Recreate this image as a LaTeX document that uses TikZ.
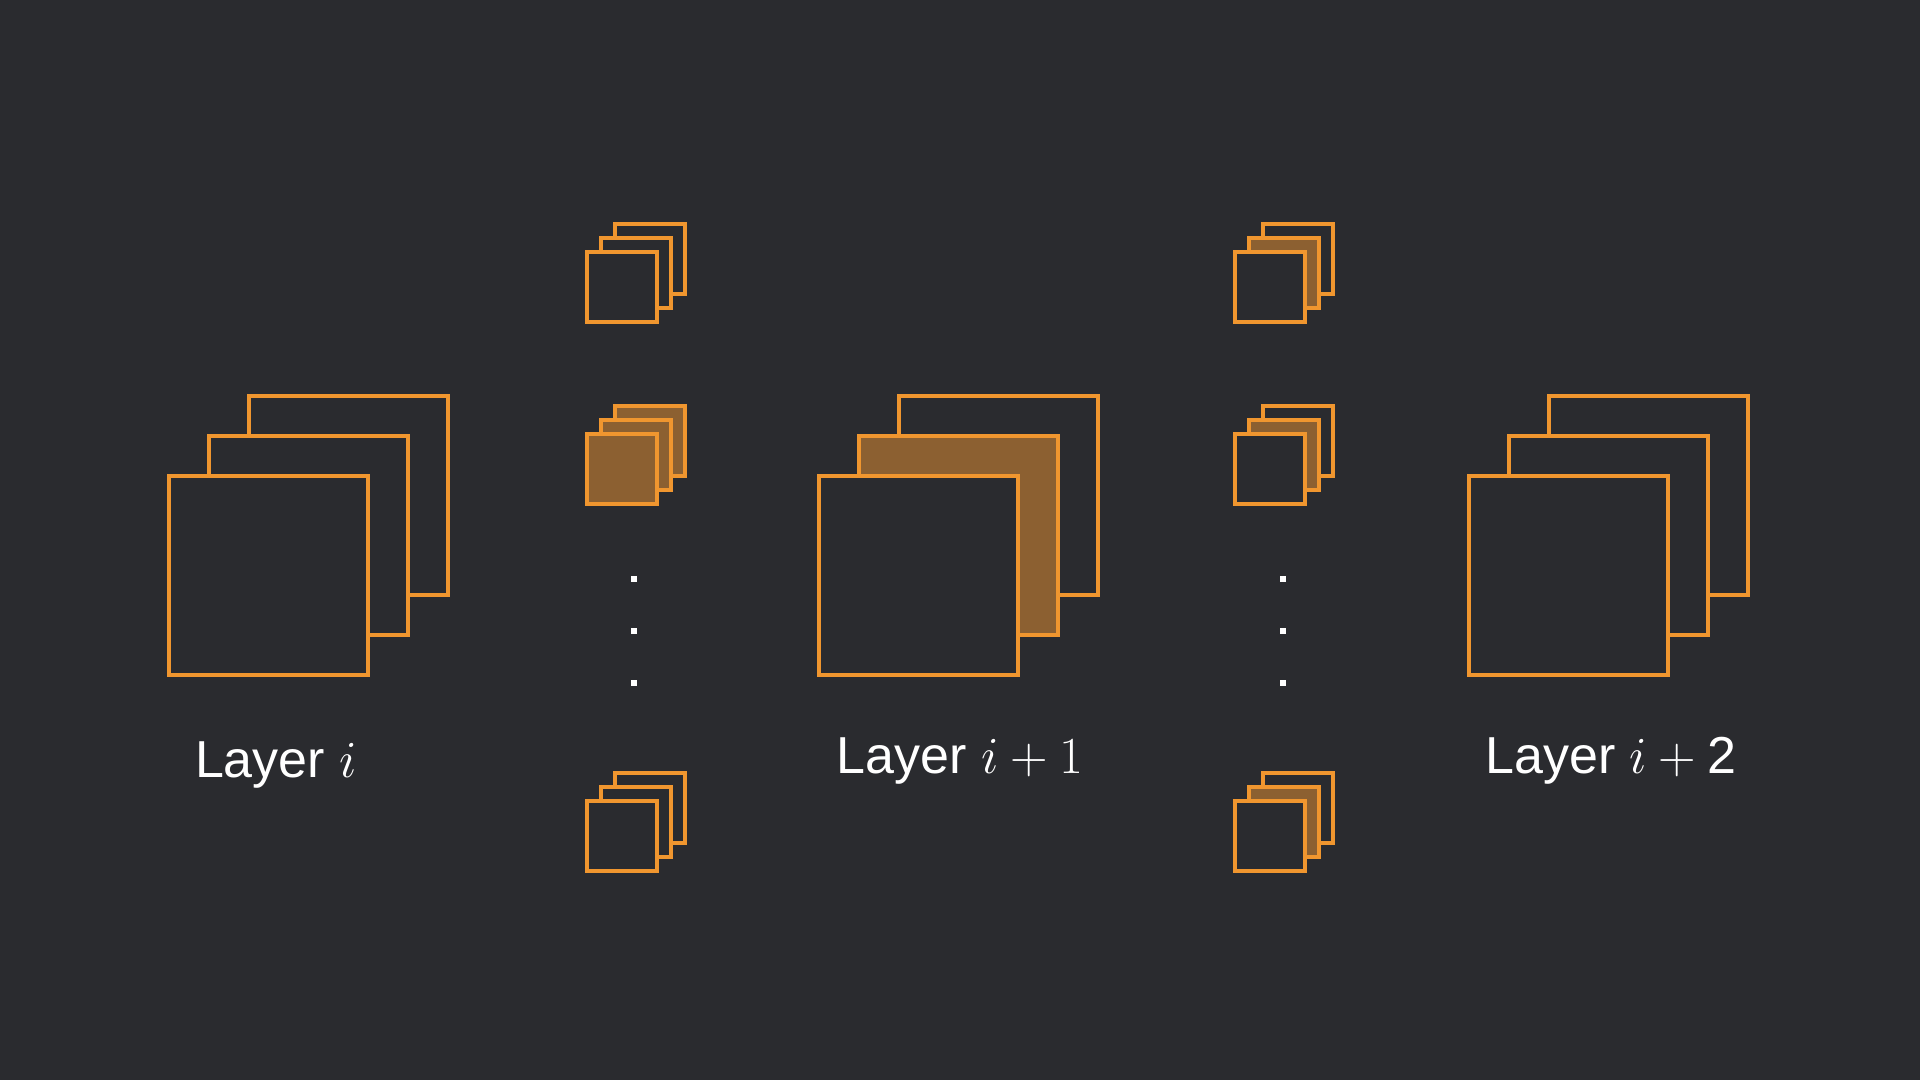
\RequirePackage{fix-cm}
\documentclass[tikz,border=0pt]{standalone}
\usepackage{fontspec}
\setmainfont{Liberation Sans}
\usetikzlibrary{positioning}

\definecolor{bgdark}{HTML}{2A2B2F}
\definecolor{mapline}{HTML}{F0962F}
\definecolor{mapfill}{HTML}{8C6031}

\begin{document}
\begin{tikzpicture}[
            x=1pt, y=-1pt,
            fmap/.style={rectangle, draw=mapline, line width=4pt, fill=bgdark, minimum size=199pt, inner sep=0pt},
            kern/.style={rectangle, draw=mapline, line width=3.5pt, fill=bgdark, minimum size=70pt, inner sep=0pt},
            plain/.style={},
            active/.style={fill=mapfill},
            vdot/.style={rectangle, fill=white, minimum size=6pt, inner sep=0pt},
            layer/.style={font=\fontsize{52}{60}\selectfont, text=white, anchor=base},
        ]

        % Background
        \fill[bgdark] (0,0) rectangle (1920,1080);
        \useasboundingbox (0,0) rectangle (1920,1080);

        % Feature maps (back, middle, front)
        \foreach \x/\fb/\fm/\ff [count=\l from 0] in {268/plain/plain/plain, 918/plain/active/plain, 1568/plain/plain/plain} {
            \node[fmap, \fb] (L\l-b) at (\x+80,495) {};
            \node[fmap, \fm] (L\l-m) at (\x+40,535) {};
            \node[fmap, \ff] (L\l-f) at (\x,575) {};
        }

        % Kernels
        \foreach \x/\y/\fb/\fm/\ff [count=\n] in {622/287/plain/plain/plain, 622/469/active/active/active, 622/836/plain/plain/plain,
                                                  1270/287/plain/active/plain, 1270/469/plain/active/plain, 1270/836/plain/active/plain} {
            \node[kern, \fb] (K\n-b) at (\x+28,\y-28) {};
            \node[kern, \fm] (K\n-m) at (\x+14,\y-14) {};
            \node[kern, \ff] (K\n-f) at (\x,\y) {};
        }

        % Vertical dots
        \foreach \x [count=\c] in {634,1283}
        \foreach \y [count=\r] in {0,52,104}
        \node[vdot] (D\c-\r) at (\x,579+\y) {};

        % Layer labels
        \node[layer] (T0) at (276,777) {Layer $i$};
        \node[layer] (T1) at (960,773) {Layer $i+1$};
        \node[layer] (T2) at (1611,773) {Layer $i+\mbox{2}$};

    \end{tikzpicture}
\end{document}
